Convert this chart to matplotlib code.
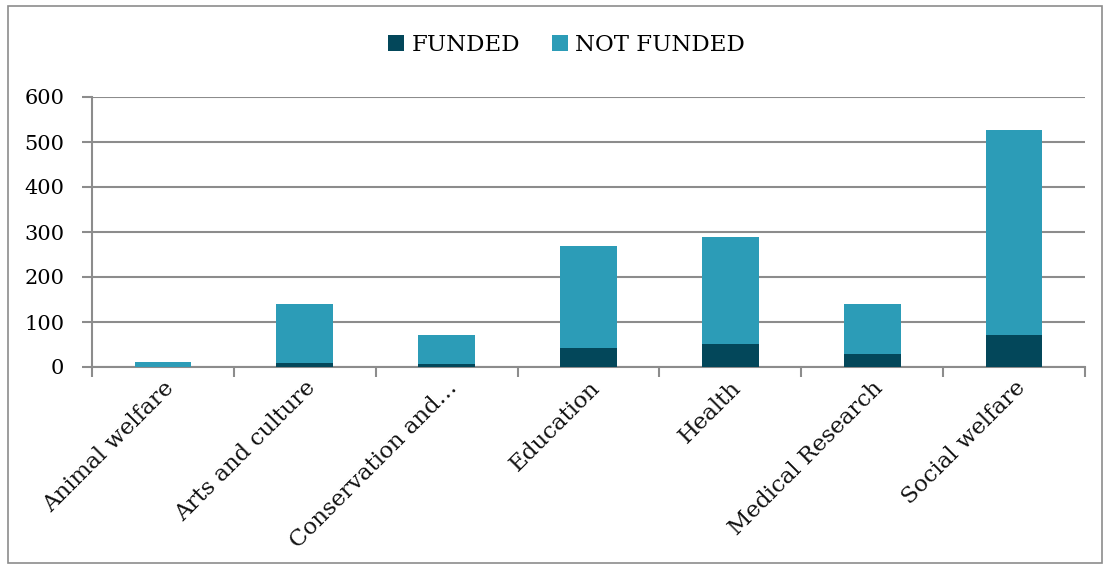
import numpy as np
import matplotlib.pyplot as plt
from matplotlib.patches import Rectangle

categories = ['Animal welfare', 'Arts and culture', 'Conservation and\u2026',
              'Education', 'Health', 'Medical Research', 'Social welfare']
funded = [1, 8, 6, 42, 52, 28, 72]
total = [11, 140, 72, 268, 290, 141, 527]
not_funded = [t - f for t, f in zip(total, funded)]

plt.rcParams['font.family'] = ['DejaVu Serif']
dark = '#03475A'
light = '#2C9CB7'
grid = '#8c8c8c'

fig = plt.figure(figsize=(11.09, 5.69), dpi=100)
ax = fig.add_axes([92/1109, 1-367/569, (1085-92)/1109, 270/569])

x = np.arange(len(categories))
ax.bar(x, funded, width=0.4, color=dark, label='FUNDED', zorder=3)
ax.bar(x, not_funded, width=0.4, bottom=funded, color=light, label='NOT FUNDED', zorder=3)

ax.set_xlim(-0.5, len(categories) - 0.5)
ax.set_ylim(0, 600)
ax.set_yticks(range(0, 601, 100))
ax.yaxis.grid(True, color=grid, linewidth=1.5, zorder=0)
for s in ['top', 'right']:
    ax.spines[s].set_visible(False)
ax.spines['left'].set_color(grid)
ax.spines['left'].set_linewidth(1.5)
ax.spines['bottom'].set_color(grid)
ax.spines['bottom'].set_linewidth(1.5)
ax.tick_params(axis='y', length=7, width=1.5, color=grid, labelsize=15, pad=13)

# category boundaries as ticks, labels at centers
ax.set_xticks(np.arange(-0.5, len(categories), 1))
ax.set_xticklabels([])
ax.tick_params(axis='x', length=7, width=1.5, color=grid)
for i, c in enumerate(categories):
    ax.text(i, -22, c, rotation=45, ha='right', va='top', fontsize=16.5,
            rotation_mode='anchor', transform=ax.transData, color='#111111')

ax.legend(loc='upper center', bbox_to_anchor=(0.478, 1.31), ncol=2, frameon=False,
          fontsize=16.5, handlelength=0.7, handleheight=0.7, columnspacing=1.4,
          handletextpad=0.3)

fig.patches.append(Rectangle((8/1109, 6/569), 1094/1109, 557/569, transform=fig.transFigure,
                             fill=False, edgecolor='#8c8c8c', linewidth=1.2))

fig.savefig('out.png', dpi=100)
